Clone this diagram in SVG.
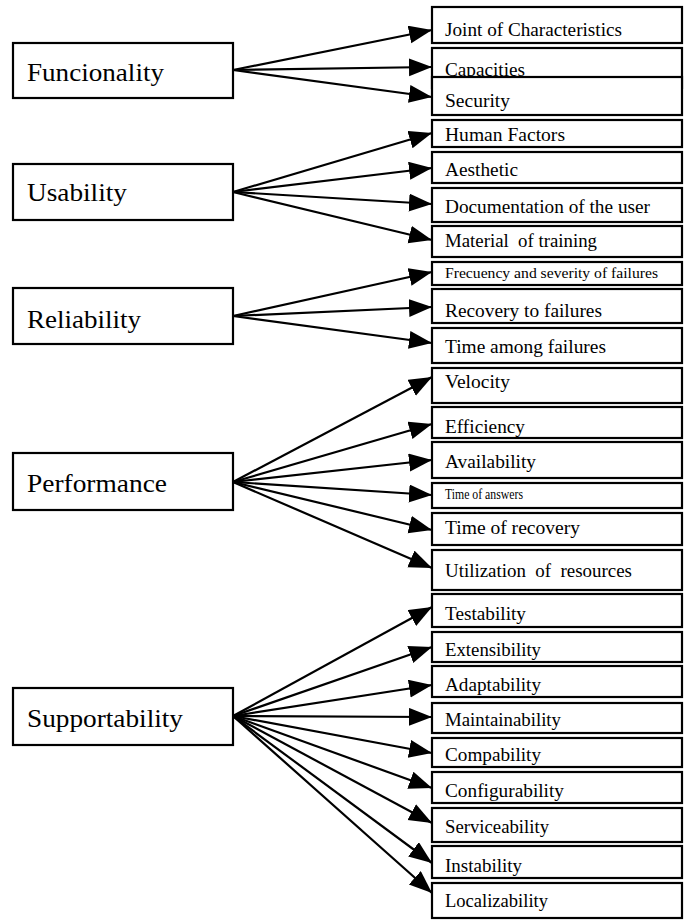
<svg xmlns="http://www.w3.org/2000/svg" width="684" height="922" viewBox="0 0 684 922">
<style>
.b{fill:#fff;stroke:#000;stroke-width:2.2}
text{font-family:'Liberation Serif','Times New Roman','DejaVu Serif',serif;fill:#000}
.t{font-size:19px}
.m{font-size:26px}
.c line{stroke:#000;stroke-width:2.2}
</style>
<defs>
<marker id="ah" markerUnits="userSpaceOnUse" markerWidth="26" markerHeight="20" refX="23" refY="9" orient="auto">
<path d="M0,0 L23,9 L0,18 Z" fill="#000"/>
</marker>
</defs>
<rect width="684" height="922" fill="#fff"/>
<g font-family="Liberation Serif, Times New Roman, serif">
<g id="funcionality"><rect class="b" x="13" y="43" width="220" height="55"/><text class="m" x="27" y="81" textLength="137" lengthAdjust="spacingAndGlyphs">Funcionality</text></g>
<g id="usability"><rect class="b" x="13" y="164" width="220" height="56"/><text class="m" x="27" y="201" textLength="100" lengthAdjust="spacingAndGlyphs">Usability</text></g>
<g id="reliability"><rect class="b" x="13" y="288" width="220" height="56"/><text class="m" x="27" y="328" textLength="114" lengthAdjust="spacingAndGlyphs">Reliability</text></g>
<g id="performance"><rect class="b" x="13" y="453" width="220" height="57"/><text class="m" x="27" y="492" textLength="140" lengthAdjust="spacingAndGlyphs">Performance</text></g>
<g id="supportability"><rect class="b" x="13" y="688" width="220" height="57"/><text class="m" x="27" y="727" textLength="156" lengthAdjust="spacingAndGlyphs">Supportability</text></g>

<g id="joint"><rect class="b" x="432" y="7" width="250" height="36"/><text class="t" x="445" y="36" textLength="177" lengthAdjust="spacingAndGlyphs">Joint of Characteristics</text></g>
<g id="capacities"><rect class="b" x="432" y="48" width="250" height="40"/><text class="t" x="445" y="76" textLength="80" lengthAdjust="spacingAndGlyphs">Capacities</text></g>
<g id="security"><rect class="b" x="432" y="77" width="250" height="38"/><line x1="432" y1="77" x2="682" y2="77" stroke="#000" stroke-width="2.2"/><text class="t" x="445" y="107" textLength="65" lengthAdjust="spacingAndGlyphs">Security</text></g>
<g id="human"><rect class="b" x="432" y="120" width="250" height="27"/><text class="t" x="445" y="141" textLength="120" lengthAdjust="spacingAndGlyphs">Human Factors</text></g>
<g id="aesthetic"><rect class="b" x="432" y="152" width="250" height="31"/><text class="t" x="445" y="176" textLength="73" lengthAdjust="spacingAndGlyphs">Aesthetic</text></g>
<g id="documentation"><rect class="b" x="432" y="188" width="250" height="34"/><text class="t" x="445" y="213" textLength="205" lengthAdjust="spacingAndGlyphs">Documentation of the user</text></g>
<g id="material"><rect class="b" x="432" y="226" width="250" height="31"/><text class="t" x="445" y="247" textLength="152" lengthAdjust="spacingAndGlyphs" xml:space="preserve">Material  of training</text></g>
<g id="frecuency"><rect class="b" x="432" y="262" width="250" height="23"/><text class="t" x="445" y="278" style="font-size:15px" textLength="213" lengthAdjust="spacingAndGlyphs">Frecuency and severity of failures</text></g>
<g id="recovery"><rect class="b" x="432" y="289" width="250" height="34"/><text class="t" x="445" y="317" textLength="157" lengthAdjust="spacingAndGlyphs">Recovery to failures</text></g>
<g id="timeamong"><rect class="b" x="432" y="328" width="250" height="35"/><text class="t" x="445" y="353" textLength="161" lengthAdjust="spacingAndGlyphs">Time among failures</text></g>
<g id="velocity"><rect class="b" x="432" y="368" width="250" height="35"/><text class="t" x="445" y="388" textLength="65" lengthAdjust="spacingAndGlyphs">Velocity</text></g>
<g id="efficiency"><rect class="b" x="432" y="407" width="250" height="31"/><text class="t" x="445" y="433" textLength="80" lengthAdjust="spacingAndGlyphs">Efficiency</text></g>
<g id="availability"><rect class="b" x="432" y="442" width="250" height="36"/><text class="t" x="445" y="468" textLength="91" lengthAdjust="spacingAndGlyphs">Availability</text></g>
<g id="answers"><rect class="b" x="432" y="483" width="250" height="25"/><text class="t" x="445" y="499" style="font-size:14px" textLength="78" lengthAdjust="spacingAndGlyphs">Time of answers</text></g>
<g id="timerecovery"><rect class="b" x="432" y="513" width="250" height="32"/><text class="t" x="445" y="534" textLength="135" lengthAdjust="spacingAndGlyphs">Time of recovery</text></g>
<g id="utilization"><rect class="b" x="432" y="550" width="250" height="40"/><text class="t" x="445" y="577" textLength="187" lengthAdjust="spacingAndGlyphs" xml:space="preserve">Utilization  of  resources</text></g>
<g id="testability"><rect class="b" x="432" y="594" width="250" height="33"/><text class="t" x="445" y="620" textLength="81" lengthAdjust="spacingAndGlyphs">Testability</text></g>
<g id="extensibility"><rect class="b" x="432" y="632" width="250" height="30"/><text class="t" x="445" y="656" textLength="96" lengthAdjust="spacingAndGlyphs">Extensibility</text></g>
<g id="adaptability"><rect class="b" x="432" y="666" width="250" height="31"/><text class="t" x="445" y="691" textLength="96" lengthAdjust="spacingAndGlyphs">Adaptability</text></g>
<g id="maintainability"><rect class="b" x="432" y="703" width="250" height="30"/><text class="t" x="445" y="726" textLength="116" lengthAdjust="spacingAndGlyphs">Maintainability</text></g>
<g id="compability"><rect class="b" x="432" y="738" width="250" height="29"/><text class="t" x="445" y="761" textLength="96" lengthAdjust="spacingAndGlyphs">Compability</text></g>
<g id="configurability"><rect class="b" x="432" y="772" width="250" height="31"/><text class="t" x="445" y="797" textLength="119" lengthAdjust="spacingAndGlyphs">Configurability</text></g>
<g id="serviceability"><rect class="b" x="432" y="808" width="250" height="34"/><text class="t" x="445" y="833" textLength="104" lengthAdjust="spacingAndGlyphs">Serviceability</text></g>
<g id="instability"><rect class="b" x="432" y="846" width="250" height="32"/><text class="t" x="445" y="872" textLength="77" lengthAdjust="spacingAndGlyphs">Instability</text></g>
<g id="localizability"><rect class="b" x="432" y="883" width="250" height="35"/><text class="t" x="445" y="907" textLength="103" lengthAdjust="spacingAndGlyphs">Localizability</text></g>
</g>
<g id="connectors" class="c">
<line x1="233" y1="70" x2="432" y2="30" marker-end="url(#ah)"/>
<line x1="233" y1="70" x2="432" y2="67" marker-end="url(#ah)"/>
<line x1="233" y1="70" x2="432" y2="97" marker-end="url(#ah)"/>
<line x1="233" y1="192" x2="432" y2="133" marker-end="url(#ah)"/>
<line x1="233" y1="192" x2="432" y2="168" marker-end="url(#ah)"/>
<line x1="233" y1="192" x2="432" y2="204" marker-end="url(#ah)"/>
<line x1="233" y1="192" x2="432" y2="240" marker-end="url(#ah)"/>
<line x1="233" y1="316" x2="432" y2="272" marker-end="url(#ah)"/>
<line x1="233" y1="316" x2="432" y2="307" marker-end="url(#ah)"/>
<line x1="233" y1="316" x2="432" y2="343" marker-end="url(#ah)"/>
<line x1="233" y1="482" x2="432" y2="377" marker-end="url(#ah)"/>
<line x1="233" y1="482" x2="432" y2="424" marker-end="url(#ah)"/>
<line x1="233" y1="482" x2="432" y2="460" marker-end="url(#ah)"/>
<line x1="233" y1="482" x2="432" y2="495" marker-end="url(#ah)"/>
<line x1="233" y1="482" x2="432" y2="530" marker-end="url(#ah)"/>
<line x1="233" y1="482" x2="432" y2="568" marker-end="url(#ah)"/>
<line x1="233" y1="716" x2="432" y2="607" marker-end="url(#ah)"/>
<line x1="233" y1="716" x2="432" y2="647" marker-end="url(#ah)"/>
<line x1="233" y1="716" x2="432" y2="685" marker-end="url(#ah)"/>
<line x1="233" y1="716" x2="432" y2="717" marker-end="url(#ah)"/>
<line x1="233" y1="716" x2="432" y2="753" marker-end="url(#ah)"/>
<line x1="233" y1="716" x2="432" y2="788" marker-end="url(#ah)"/>
<line x1="233" y1="716" x2="432" y2="823" marker-end="url(#ah)"/>
<line x1="233" y1="716" x2="432" y2="863" marker-end="url(#ah)"/>
<line x1="233" y1="716" x2="432" y2="893" marker-end="url(#ah)"/>
</g>
</svg>
